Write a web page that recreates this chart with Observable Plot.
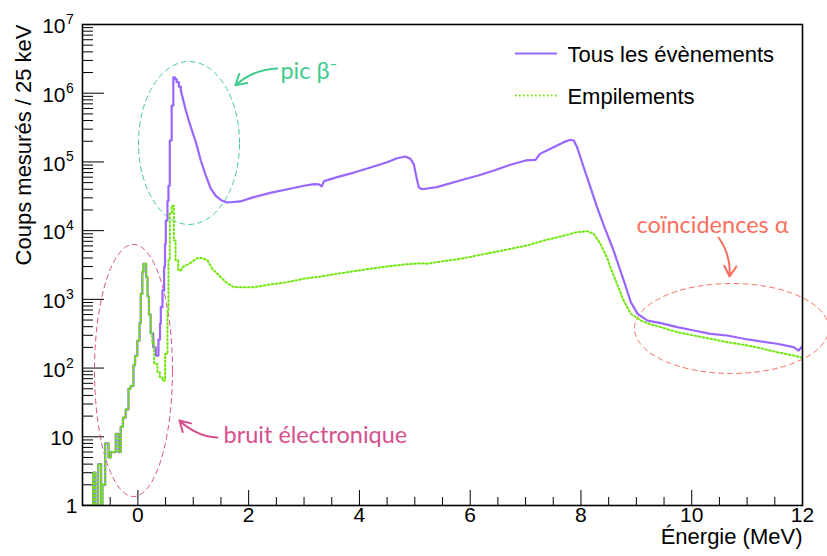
<!DOCTYPE html>
<html><head><meta charset="utf-8">
<script src="https://cdn.jsdelivr.net/npm/d3@7"></script>
<script src="https://cdn.jsdelivr.net/npm/@observablehq/plot@0.6"></script>
<style>body{margin:0;background:#fff}#chart{width:827px;height:556px}</style>
</head><body><div id="chart"></div>
<script>
// ---- Data: "Tous les évènements" (all events), low-energy bins (left edge MeV, counts)
const allLowE = [-1.0,-0.807,-0.766,-0.717,-0.663,-0.64,-0.59,-0.53,-0.49,-0.40,-0.35,-0.31,-0.27,-0.22,-0.17,-0.13,-0.08,-0.05,-0.01,0.03,0.052,0.08,0.10,0.15,0.175,0.20,0.23,0.277,0.324,0.372,0.40,0.414,0.444,0.474,0.49,0.504,0.534,0.552,0.576,0.61,0.64,0.67,0.70,0.74,0.775];
const allLowN = [1,3,1,4,1,2,8,5,6,11,6,14,19,25,50,55,110,150,250,450,1200,2500,3300,2100,1100,600,320,200,152,260,440,770,1350,3000,6400,14000,27000,45000,205000,660000,1700000,1600000,1450000,1250000,1100000];
// higher-energy readings (MeV, counts)
const allE = [0.775,0.866,0.956,1.046,1.136,1.227,1.317,1.407,1.497,1.61,1.85,2.09,2.39,2.70,3.0,3.18,3.27,3.32,3.36,3.6,3.9,4.2,4.5,4.68,4.83,4.92,4.98,5.03,5.07,5.13,5.40,5.83,6.13,6.43,6.73,7.0,7.18,7.26,7.45,7.69,7.81,7.87,7.93,8.05,8.17,8.29,8.41,8.59,8.77,8.90,9.02,9.2,9.44,9.74,10.04,10.34,10.64,10.94,11.24,11.54,11.84,11.93,12.0];
const allN = [1100000,560000,320000,195000,105000,63000,41000,32000,28000,25700,26600,30700,35500,40000,45000,47500,47000,44000,52500,60000,70000,83000,99000,113000,120000,111000,94000,60000,43000,40000,43000,54000,63000,75000,91000,105000,107000,131000,156000,194000,210000,205000,164000,83000,43000,22000,12000,5100,1900,910,620,490,450,394,352,315,298,267,244,226,202,180,210];

// ---- Data: "Empilements" (pile-up), low-energy bins
const pileLowE = [-1.0,-0.807,-0.766,-0.717,-0.663,-0.64,-0.59,-0.53,-0.49,-0.40,-0.35,-0.31,-0.27,-0.22,-0.17,-0.13,-0.08,-0.05,-0.01,0.03,0.052,0.08,0.10,0.15,0.175,0.20,0.23,0.26,0.294,0.354,0.396,0.444,0.492,0.534,0.552,0.576,0.61,0.65,0.68,0.728,0.775];
const pileLowN = [1,3,1,4,1,2,8,5,6,11,6,14,19,25,50,55,110,150,250,450,1200,2500,3300,2100,1100,600,320,230,115,87,74,66,160,690,3700,17600,23000,7200,3700,2640,2640];
const pileE = [0.775,0.805,0.926,1.076,1.166,1.257,1.347,1.467,1.588,1.708,1.79,2.09,2.39,2.70,3.0,3.3,3.6,3.9,4.2,4.5,4.8,5.1,5.22,5.52,5.83,6.13,6.43,6.73,7.03,7.33,7.63,7.93,8.11,8.23,8.35,8.41,8.47,8.53,8.65,8.77,8.90,9.08,9.26,9.44,9.74,10.04,10.34,10.64,10.94,11.24,11.54,11.84,12.0];
const pileN = [2640,2940,3300,4000,4000,3680,2760,2220,1780,1540,1500,1500,1650,1780,2000,2150,2360,2570,2790,3010,3220,3350,3300,3600,3900,4360,4860,5440,6080,7190,8200,9500,9800,9000,6450,5100,4100,2940,1690,960,620,493,430,394,333,298,267,238,218,195,170,152,141];

// ---- Tick labels
const xMajor = [0,2,4,6,8,10,12];
const xLabels = ["0","2","4","6","8","10","12"];
const xMinor = [-0.5,0.5,1,1.5,2.5,3,3.5,4.5,5,5.5,6.5,7,7.5,8.5,9,9.5,10.5,11,11.5];
const yMajor = [1,10,100,1e3,1e4,1e5,1e6,1e7];
const yBase = ["1","10","10","10","10","10","10","10"];
const yExp = ["","","2","3","4","5","6","7"];
const yMinor = [];
for (let e = 0; e < 7; e++) for (let m = 2; m <= 9; m++) yMinor.push(m * 10 ** e);

const seriesNames = ["Tous les évènements", "Empilements"];
const annText = ["pic β⁻", "bruit électronique", "coïncidences α"];

const toRows = (E, N) => E.map((x, i) => ({x, y: N[i]}));
const allLow = toRows(allLowE, allLowN), allHigh = toRows(allE, allN);
const pileLow = toRows(pileLowE, pileLowN), pileHigh = toRows(pileE, pileN);

const yLab = yMajor.map((v, i) => ({v, base: yBase[i], exp: yExp[i]}));
const yLabOne = yLab.filter(d => d.base === "1");
const yLabTen = yLab.filter(d => d.base === "10" && d.exp === "");
const yLabPow = yLab.filter(d => d.exp !== "");

const PURPLE = "#9966ff", GREEN = "#6ee60a";
const C_BETA = "#3fcb8c", C_NOISE = "#d6508e", C_ALPHA = "#fa6e5e";
const DOTS = "1.6,2.4";

function ellipse(cx, rx, clog, rlog) {
  return d3.range(0, 361, 2).map(a => {
    const t = a * Math.PI / 180;
    return {x: cx + rx * Math.cos(t), y: 10 ** (clog + rlog * Math.sin(t))};
  });
}

const W = 827, H = 556, mL = 82, mR = 25, mT = 24, mB = 51;
const fw = W - mL - mR, fh = H - mT - mB;
const AX = "Liberation Sans, Arial, Helvetica, sans-serif";
const AN = "Lato, 'Open Sans', sans-serif";

const plot = Plot.plot({
  width: W, height: H, marginLeft: mL, marginRight: mR, marginTop: mT, marginBottom: mB,
  x: {domain: [-1, 12], axis: null},
  y: {type: "log", domain: [1, 1e7], axis: null},
  style: {fontFamily: AX, background: "white", overflow: "visible", color: "black"},
  marks: [
    // ticks (inward, ROOT style)
    Plot.tickX(xMajor, {x: d => d, insetTop: fh - 15, stroke: "black", strokeWidth: 1}),
    Plot.tickX(xMinor, {x: d => d, insetTop: fh - 8, stroke: "black", strokeWidth: 1}),
    Plot.tickY(yMajor, {y: d => d, insetRight: fw - 22, stroke: "black", strokeWidth: 1}),
    Plot.tickY(yMinor, {y: d => d, insetRight: fw - 11, stroke: "black", strokeWidth: 1}),
    // tick labels
    Plot.text(xMajor, {x: d => d, frameAnchor: "bottom", dy: 16, text: (d, i) => xLabels[i], fontSize: 21}),
    Plot.text(yLabOne, {y: "v", text: "base", frameAnchor: "left", dx: -5, dy: 1, textAnchor: "end", fontSize: 21}),
    Plot.text(yLabTen, {y: "v", text: "base", frameAnchor: "left", dx: -9, dy: 1, textAnchor: "end", fontSize: 21}),
    Plot.text(yLabPow, {y: "v", text: "base", frameAnchor: "left", dx: -17, dy: 2, textAnchor: "end", fontSize: 21}),
    Plot.text(yLabPow, {y: "v", text: "exp", frameAnchor: "left", dx: -16.5, dy: -5, textAnchor: "start", fontSize: 14}),
    // ellipses
    Plot.line(ellipse(0.923, 0.912, 5.276, 1.186), {x: "x", y: "y", stroke: C_BETA, strokeWidth: 1, strokeDasharray: "5,4"}),
    Plot.line(ellipse(-0.079, 0.704, 1.965, 1.834), {x: "x", y: "y", stroke: C_NOISE, strokeWidth: 1, strokeDasharray: "5,4"}),
    Plot.line(ellipse(10.72, 1.752, 2.576, 0.655), {x: "x", y: "y", stroke: C_ALPHA, strokeWidth: 1, strokeDasharray: "5,4"}),
    // histograms
    Plot.line(allLow, {x: "x", y: "y", curve: "step-after", stroke: PURPLE, strokeWidth: 2.2, clip: true}),
    Plot.line(allHigh, {x: "x", y: "y", stroke: PURPLE, strokeWidth: 2.2, clip: true}),
    Plot.line(pileLow, {x: "x", y: "y", curve: "step-after", stroke: GREEN, strokeWidth: 2, strokeDasharray: DOTS, clip: true}),
    Plot.line(pileHigh, {x: "x", y: "y", stroke: GREEN, strokeWidth: 2, strokeDasharray: DOTS, clip: true}),
    // frame
    Plot.frame({stroke: "black", strokeWidth: 1.6}),
    // legend
    Plot.ruleY([3.79e6], {x1: 6.818, x2: 7.576, stroke: PURPLE, strokeWidth: 2}),
    Plot.ruleY([9.27e5], {x1: 6.818, x2: 7.576, stroke: GREEN, strokeWidth: 2, strokeDasharray: DOTS}),
    Plot.text([seriesNames[0]], {x: 7.756, y: 3.6e6, text: d => d, textAnchor: "start", fontSize: 22}),
    Plot.text([seriesNames[1]], {x: 7.756, y: 8.9e5, text: d => d, textAnchor: "start", fontSize: 22}),
    // annotations
    Plot.arrow([0], {x1: 2.52, y1: 2.29e6, x2: 1.762, y2: 1.30e6, bend: -20, stroke: C_BETA, strokeWidth: 2, headLength: 9}),
    Plot.arrow([0], {x1: 1.437, y1: 9.77, x2: 0.751, y2: 17.3, bend: 20, stroke: C_NOISE, strokeWidth: 2, headLength: 9}),
    Plot.arrow([0], {x1: 10.484, y1: 7.94e3, x2: 10.683, y2: 2150, bend: 20, stroke: C_ALPHA, strokeWidth: 2, headLength: 9}),
    Plot.text([annText[0]], {x: 2.573, y: 2.07e6, text: d => d, textAnchor: "start", fill: C_BETA, fontSize: 23.5, fontFamily: AN}),
    Plot.text([annText[1]], {x: 1.546, y: 10.4, text: d => d, textAnchor: "start", fill: C_NOISE, fontSize: 23.5, fontFamily: AN}),
    Plot.text([annText[2]], {x: 9.003, y: 1.19e4, text: d => d, textAnchor: "start", fill: C_ALPHA, fontSize: 23.5, fontFamily: AN}),
    // axis titles
    Plot.text(["Coups mesurés / 25 keV"], {frameAnchor: "top-left", dx: -67, rotate: -90, textAnchor: "end", fontSize: 22}),
    Plot.text(["Énergie (MeV)"], {frameAnchor: "bottom-right", dy: 38, textAnchor: "end", fontSize: 22})
  ]
});

document.getElementById("chart").appendChild(plot);
</script>
</body></html>
